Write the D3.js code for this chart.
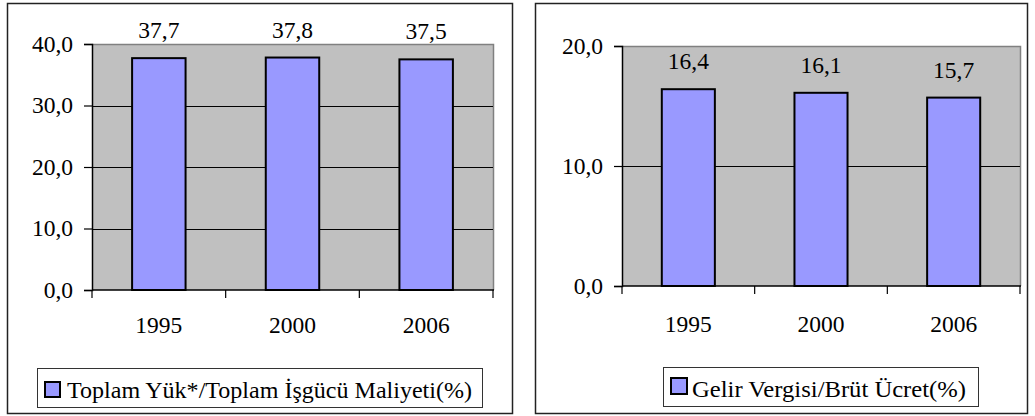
<!DOCTYPE html>
<html><head><meta charset="utf-8">
<script src="https://cdn.jsdelivr.net/npm/d3@7"></script>
<style>
html,body{margin:0;padding:0;background:#fff;}
svg{display:block;}
</style></head>
<body>
<svg id="chart" width="1035" height="416"></svg>
<script>
const categories = ["1995", "2000", "2006"];
const totalBurden = [37.7, 37.8, 37.5];
const incomeTax = [16.4, 16.1, 15.7];
const leftTicks = [0, 10, 20, 30, 40];
const rightTicks = [0, 10, 20];
const leftLegend = "Toplam Yük*/Toplam İşgücü Maliyeti(%)";
const rightLegend = "Gelir Vergisi/Brüt Ücret(%)";

const FONT = "Liberation Serif";
const FS = 23.5;
const fmt = d => d.toFixed(1).replace(".", ",");
const svg = d3.select("#chart");

function styleText(sel, size) {
  return sel.attr("font-family", FONT).attr("font-size", size || FS).attr("fill", "#000");
}

function drawChart(cfg) {
  const g = svg.append("g");
  g.append("rect").attr("x", cfg.frame[0] + 0.5).attr("y", cfg.frame[1] + 0.5)
    .attr("width", cfg.frame[2] - cfg.frame[0]).attr("height", cfg.frame[3] - cfg.frame[1])
    .attr("fill", "#fff").attr("stroke", "#222").attr("stroke-width", 1.5);

  const x = d3.scaleBand().domain(categories).range([cfg.plot[0], cfg.plot[2]])
    .paddingInner(0.6).paddingOuter(0.3);
  const y = d3.scaleLinear().domain([0, d3.max(cfg.ticks)]).range([cfg.plot[3], cfg.plot[1]]);

  g.append("rect").attr("x", cfg.plot[0]).attr("y", cfg.plot[1])
    .attr("width", cfg.plot[2] - cfg.plot[0]).attr("height", cfg.plot[3] - cfg.plot[1])
    .attr("fill", "#c0c0c0");
  g.append("path")
    .attr("d", `M${cfg.plot[0]},${cfg.plot[1] + 0.5}H${cfg.plot[2] + 0.5}V${cfg.plot[3]}`)
    .attr("fill", "none").attr("stroke", "#808080").attr("stroke-width", 1.5);

  g.selectAll(".grid").data(cfg.ticks.filter(t => t > 0 && t < d3.max(cfg.ticks))).enter()
    .append("line").attr("x1", cfg.plot[0]).attr("x2", cfg.plot[2])
    .attr("y1", d => Math.round(y(d)) + 0.5).attr("y2", d => Math.round(y(d)) + 0.5)
    .attr("stroke", "#000").attr("stroke-width", 1);

  g.selectAll(".bar").data(cfg.values).enter().append("rect")
    .attr("x", (d, i) => x(categories[i]))
    .attr("y", d => y(d))
    .attr("width", x.bandwidth())
    .attr("height", d => y(0) - y(d))
    .attr("fill", "#9999ff").attr("stroke", "#000").attr("stroke-width", 2);

  styleText(g.selectAll(".val").data(cfg.values).enter().append("text")
    .attr("x", (d, i) => x(categories[i]) + x.bandwidth() / 2)
    .attr("y", d => y(d) - 20)
    .attr("text-anchor", "middle")
    .text(fmt));

  const ya = g.append("g").attr("transform", `translate(${cfg.plot[0]},0)`)
    .call(d3.axisLeft(y).tickValues(cfg.ticks).tickFormat(fmt).tickSize(8).tickPadding(11));
  ya.attr("font-family", FONT).attr("font-size", FS);
  ya.select(".domain").attr("stroke", "#000").attr("stroke-width", 1.5);
  ya.selectAll(".tick line").attr("stroke", "#000").attr("stroke-width", 1.2);
  styleText(ya.selectAll(".tick text")).attr("dy", "0.3em");

  const xa = g.append("g").attr("transform", `translate(0,${cfg.plot[3]})`);
  xa.append("line").attr("x1", cfg.plot[0]).attr("x2", cfg.plot[2] + 1)
    .attr("y1", 0).attr("y2", 0).attr("stroke", "#000").attr("stroke-width", 1.5);
  const bounds = d3.range(categories.length + 1).map(i => cfg.plot[0] + i * (cfg.plot[2] - cfg.plot[0]) / categories.length);
  xa.selectAll(".xt").data(bounds).enter().append("line")
    .attr("x1", d => d).attr("x2", d => d).attr("y1", 0).attr("y2", 8)
    .attr("stroke", "#000").attr("stroke-width", 1.2);
  styleText(xa.selectAll(".xl").data(categories).enter().append("text")
    .attr("x", d => x(d) + x.bandwidth() / 2).attr("y", cfg.xLabelBase - cfg.plot[3])
    .attr("text-anchor", "middle").text(d => d));

  const L = cfg.legend;
  g.append("rect").attr("x", L.box[0] + 0.5).attr("y", L.box[1] + 0.5)
    .attr("width", L.box[2] - L.box[0]).attr("height", L.box[3] - L.box[1])
    .attr("fill", "#fff").attr("stroke", "#333").attr("stroke-width", 1);
  g.append("rect").attr("x", L.sw[0]).attr("y", L.sw[1])
    .attr("width", L.sw[2] - L.sw[0]).attr("height", L.sw[3] - L.sw[1])
    .attr("fill", "#9999ff").attr("stroke", "#000").attr("stroke-width", 2);
  styleText(g.append("text").attr("x", L.tx).attr("y", L.ty)
    .attr("textLength", L.tw).attr("lengthAdjust", "spacingAndGlyphs")
    .text(L.label), 24);
}

drawChart({
  frame: [7, 3, 512, 413],
  plot: [92, 44, 493, 290],
  ticks: leftTicks,
  values: totalBurden,
  xLabelBase: 333,
  legend: { box: [37, 368, 482, 407], sw: [45, 382, 60, 397], tx: 67, ty: 398, tw: 405, label: leftLegend }
});

drawChart({
  frame: [535, 3, 1027, 413],
  plot: [622, 46, 1020, 286],
  ticks: rightTicks,
  values: incomeTax,
  xLabelBase: 332,
  legend: { box: [663, 367, 978, 406], sw: [671, 378, 687, 394], tx: 692, ty: 397, tw: 274, label: rightLegend }
});
</script>
</body></html>
